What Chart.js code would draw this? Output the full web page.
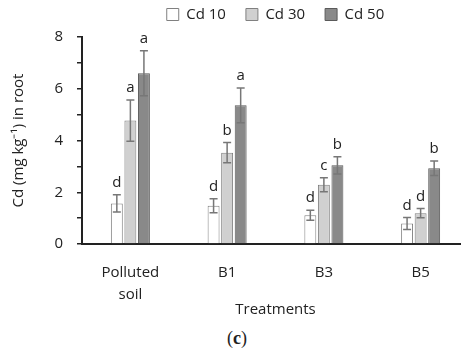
<!DOCTYPE html>
<html>
<head>
<meta charset="utf-8">
<script src="https://cdn.jsdelivr.net/npm/chart.js@4"></script>
<style>
  html, body { margin: 0; padding: 0; background: #fff; overflow: hidden; }
  #wrap { position: relative; width: 470px; height: 320px; }
  #panel {
    position: absolute; top: 328px; left: 0; width: 474px; text-align: center;
    font-family: 'Liberation Serif', serif; font-size: 18px; color: #222;
  }
</style>
</head>
<body>
<div id="wrap"><canvas id="chart" width="470" height="320"></canvas></div>
<div id="panel">(<b>c</b>)</div>
<script>
const categories = [['Polluted', 'soil'], 'B1', 'B3', 'B5'];
const seriesNames = ['Cd 10', 'Cd 30', 'Cd 50'];
const cd10 = [1.57, 1.48, 1.11, 0.79];
const cd30 = [4.77, 3.53, 2.29, 1.19];
const cd50 = [6.6, 5.36, 3.04, 2.93];
const err10 = [0.33, 0.27, 0.19, 0.23];
const err30 = [0.8, 0.39, 0.27, 0.18];
const err50 = [0.87, 0.67, 0.33, 0.28];
const letters10 = ['d', 'd', 'd', 'd'];
const letters30 = ['a', 'b', 'c', 'd'];
const letters50 = ['a', 'a', 'b', 'b'];
const yTicks = [0, 2, 4, 6, 8];

const FONT = '"Open Sans", sans-serif';
const errors = [err10, err30, err50];
const letters = [letters10, letters30, letters50];

// error bars + significance letters
const errorBars = {
  id: 'errorBars',
  afterDatasetsDraw(chart) {
    const ctx = chart.ctx;
    const y = chart.scales.y;
    ctx.save();
    chart.data.datasets.forEach((ds, i) => {
      const meta = chart.getDatasetMeta(i);
      meta.data.forEach((bar, j) => {
        const v = ds.data[j];
        const e = errors[i][j];
        const top = y.getPixelForValue(v + e);
        const bot = y.getPixelForValue(v - e);
        ctx.strokeStyle = '#777';
        ctx.lineWidth = 1.5;
        ctx.beginPath();
        ctx.moveTo(bar.x, top); ctx.lineTo(bar.x, bot);
        ctx.moveTo(bar.x - 4, top); ctx.lineTo(bar.x + 4, top);
        ctx.moveTo(bar.x - 4, bot); ctx.lineTo(bar.x + 4, bot);
        ctx.stroke();
        ctx.fillStyle = '#222';
        ctx.font = '15px ' + FONT;
        ctx.textAlign = 'center';
        ctx.textBaseline = 'alphabetic';
        ctx.fillText(letters[i][j], bar.x, top - 8);
      });
    });
    ctx.restore();
  }
};

// a little extra room under the legend
const legendSpace = {
  id: 'legendSpace',
  beforeLayout(chart) {
    const lg = chart.legend;
    if (lg && !lg._extraSpace) {
      const fit = lg.fit;
      lg.fit = function () { fit.call(this); this.height += 5; };
      lg._extraSpace = true;
    }
  }
};

new Chart(document.getElementById('chart'), {
  type: 'bar',
  data: {
    labels: categories,
    datasets: [
      { label: seriesNames[0], data: cd10, backgroundColor: '#ffffff', borderColor: '#808080', borderWidth: 1 },
      { label: seriesNames[1], data: cd30, backgroundColor: '#d0d0d0', borderColor: '#808080', borderWidth: 1 },
      { label: seriesNames[2], data: cd50, backgroundColor: '#898989', borderColor: '#5a5a5a', borderWidth: 1 }
    ]
  },
  options: {
    responsive: false,
    animation: false,
    layout: { padding: { left: 0, right: 1, top: -13, bottom: 0 } },
    datasets: { bar: { categoryPercentage: 0.42, barPercentage: 0.88 } },
    plugins: {
      tooltip: { enabled: false },
      legend: {
        position: 'top',
        fullSize: false,
        labels: {
          color: '#222',
          font: { family: FONT, size: 15 },
          boxWidth: 12,
          boxHeight: 12,
          padding: 20,
          useBorderRadius: false
        }
      }
    },
    scales: {
      x: {
        afterFit: (s) => { s.height = 76; },
        grid: { display: false, drawTicks: false },
        border: { color: '#222', width: 2 },
        ticks: { color: '#222', font: { family: FONT, size: 15, lineHeight: 1.45 }, padding: 18 },
        title: { display: true, text: 'Treatments', color: '#222', font: { family: FONT, size: 15 }, padding: { top: 0, bottom: 1 } }
      },
      y: {
        min: 0,
        max: 8,
        afterFit: (s) => { s.width = 82; },
        afterBuildTicks: (s) => { s.ticks = [0, 1, 2, 3, 4, 5, 6, 7, 8].map((v) => ({ value: v })); },
        grid: { drawOnChartArea: false, drawTicks: true, tickLength: 5, color: '#222', lineWidth: 1.5 },
        border: { color: '#222', width: 2 },
        ticks: {
          color: '#222',
          font: { family: FONT, size: 15 },
          padding: 14,
          callback: (v) => (yTicks.includes(v) ? v : '')
        },
        title: { display: true, text: 'Cd (mg kg\u207B\u00B9) in root', color: '#222', font: { family: FONT, size: 15 }, padding: { top: 10, bottom: 0 } }
      }
    }
  },
  plugins: [errorBars, legendSpace]
});
</script>
</body>
</html>
